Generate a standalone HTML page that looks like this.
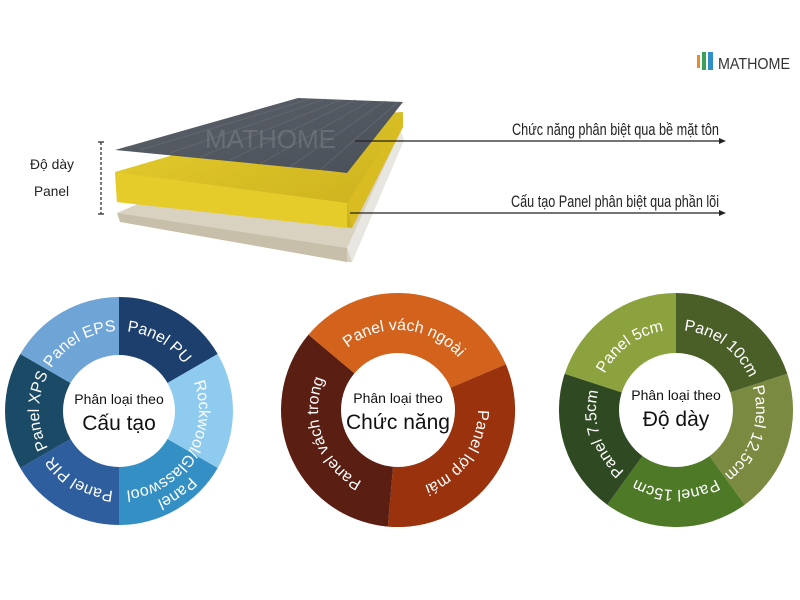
<!DOCTYPE html>
<html><head><meta charset="utf-8"><style>
html,body{margin:0;padding:0;background:#fff;}
svg{display:block;}
</style></head><body>
<svg width="800" height="600" viewBox="0 0 800 600" xmlns="http://www.w3.org/2000/svg">
<defs>
<linearGradient id="gy" x1="0" y1="0" x2="1" y2="1"><stop offset="0" stop-color="#e7cf2e"/><stop offset="1" stop-color="#c9ad1c"/></linearGradient>
<linearGradient id="gg" x1="0" y1="0" x2="1" y2="1"><stop offset="0" stop-color="#5b6069"/><stop offset="1" stop-color="#4a5059"/></linearGradient>
<path id="c1" d="M119,331 A80,80 0 1 1 119,491 A80,80 0 1 1 119,331 A80,80 0 1 1 119,491 A80,80 0 1 1 119,331"/>
<path id="c1b" d="M119,314 A97,97 0 1 1 119,508 A97,97 0 1 1 119,314 A97,97 0 1 1 119,508 A97,97 0 1 1 119,314"/>
<path id="c2" d="M398,330 A80,80 0 1 1 398,490 A80,80 0 1 1 398,330 A80,80 0 1 1 398,490 A80,80 0 1 1 398,330"/>
<path id="c3" d="M676,330 A80,80 0 1 1 676,490 A80,80 0 1 1 676,330 A80,80 0 1 1 676,490 A80,80 0 1 1 676,330"/>
</defs>
<rect width="800" height="600" fill="#fff"/>

<!-- logo -->
<rect x="697" y="55" width="3" height="13" fill="#e8892a"/>
<rect x="702" y="52" width="4" height="18" fill="#3aa05a"/>
<rect x="708" y="52" width="5" height="18" fill="#2f8fc8"/>
<text x="718" y="69" font-family="Liberation Sans, sans-serif" font-size="16" fill="#333" textLength="72" lengthAdjust="spacingAndGlyphs">MATHOME</text>

<!-- panel illustration -->
<polygon points="117,213 140,203 400,130 404,140 352,262 347,262" fill="#d9d2c0"/>
<polygon points="117,213 347,248 347,262 120,222" fill="#c8bfaa"/>
<polygon points="347,248 400,132 404,140 352,262" fill="#e8e6e0"/>
<polygon points="115,172 300,118 403,112 403,125 352,228 117,202" fill="url(#gy)"/>
<polygon points="115,172 347,203 347,228 117,202" fill="#e6cc2a"/>
<polygon points="347,203 403,115 403,127 352,228" fill="#d8bc22"/>
<polygon points="115,150 298,98 403,102 347,173 330,171" fill="url(#gg)"/>
<g stroke="#6a7079" stroke-width="1" opacity="0.6">
<line x1="140" y1="150" x2="310" y2="99"/><line x1="170" y1="153" x2="325" y2="99"/>
<line x1="200" y1="157" x2="340" y2="100"/><line x1="230" y1="160" x2="355" y2="100"/>
<line x1="260" y1="164" x2="370" y2="101"/><line x1="290" y1="167" x2="385" y2="101"/>
<line x1="320" y1="170" x2="398" y2="102"/>
</g>
<text x="205" y="148" font-family="Liberation Sans, sans-serif" font-size="26" fill="#8a8f96" opacity="0.4">MATHOME</text>

<!-- dimension -->
<line x1="101" y1="142" x2="101" y2="214" stroke="#333" stroke-width="1.3" stroke-dasharray="3,2"/>
<line x1="98" y1="142" x2="104" y2="142" stroke="#333" stroke-width="1.3"/>
<line x1="98" y1="214" x2="104" y2="214" stroke="#333" stroke-width="1.3"/>
<text x="30" y="169" font-family="Liberation Sans, sans-serif" font-size="14" fill="#222" textLength="44" lengthAdjust="spacingAndGlyphs">Độ dày</text>
<text x="34" y="196" font-family="Liberation Sans, sans-serif" font-size="14" fill="#222" textLength="35" lengthAdjust="spacingAndGlyphs">Panel</text>

<!-- arrows -->
<line x1="355" y1="141" x2="722" y2="141" stroke="#222" stroke-width="1.3"/>
<polygon points="726,141 719,138 719,144" fill="#222"/>
<line x1="350" y1="213" x2="722" y2="213" stroke="#222" stroke-width="1.3"/>
<polygon points="726,213 719,210 719,216" fill="#222"/>
<text x="512" y="135" font-family="Liberation Sans, sans-serif" font-size="17" fill="#222" textLength="207" lengthAdjust="spacingAndGlyphs">Chức năng phân biệt qua bề mặt tôn</text>
<text x="511" y="207" font-family="Liberation Sans, sans-serif" font-size="17" fill="#222" textLength="208" lengthAdjust="spacingAndGlyphs">Cấu tạo Panel phân biệt qua phần lõi</text>

<!-- donut 1 -->
<g transform="translate(119,411)">
<path d="M0,0 L0,-114 A114,114 0 0 1 98.7,-57 Z" fill="#1d3f6e"/>
<path d="M0,0 L98.7,-57 A114,114 0 0 1 98.7,57 Z" fill="#8fcbee"/>
<path d="M0,0 L98.7,57 A114,114 0 0 1 0,114 Z" fill="#3490c4"/>
<path d="M0,0 L0,114 A114,114 0 0 1 -98.7,57 Z" fill="#2e5e9e"/>
<path d="M0,0 L-98.7,57 A114,114 0 0 1 -98.7,-57 Z" fill="#1b4a66"/>
<path d="M0,0 L-98.7,-57 A114,114 0 0 1 0,-114 Z" fill="#6fa4d6"/>
<circle r="56" fill="#fff"/>
</g>
<g font-family="Liberation Sans, sans-serif" font-size="16" fill="#fff">
<text><textPath href="#c1" startOffset="54.17%" text-anchor="middle">Panel PU</textPath></text>
<text><textPath href="#c1" startOffset="66.9%" text-anchor="middle">Rockwool/Glasswool</textPath></text>
<text><textPath href="#c1b" startOffset="70.1%" text-anchor="middle">Panel</textPath></text>
<text><textPath href="#c1" startOffset="79.17%" text-anchor="middle">Panel PIR</textPath></text>
<text><textPath href="#c1" startOffset="87.5%" text-anchor="middle">Panel XPS</textPath></text>
<text><textPath href="#c1" startOffset="95.83%" text-anchor="middle">Panel EPS</textPath></text>
</g>
<text x="119" y="404" text-anchor="middle" font-family="Liberation Sans, sans-serif" font-size="14" fill="#111">Phân loại theo</text>
<text x="119" y="430" text-anchor="middle" font-family="Liberation Sans, sans-serif" font-size="21" fill="#111">Cấu tạo</text>

<!-- donut 2 -->
<g transform="translate(398,410)">
<path d="M0,0 L-89.6,-75.2 A117,117 0 0 1 107.8,-45.7 Z" fill="#d2621c"/>
<path d="M0,0 L107.8,-45.7 A117,117 0 0 1 -10.2,116.6 Z" fill="#99320d"/>
<path d="M0,0 L-10.2,116.6 A117,117 0 0 1 -89.6,-75.2 Z" fill="#5a1e12"/>
<circle r="57" fill="#fff"/>
</g>
<g font-family="Liberation Sans, sans-serif" font-size="16" fill="#fff">
<text><textPath href="#c2" startOffset="50.7%" text-anchor="middle">Panel vách ngoài</textPath></text>
<text><textPath href="#c2" startOffset="67.4%" text-anchor="middle">Panel lợp mái</textPath></text>
<text><textPath href="#c2" startOffset="84.7%" text-anchor="middle">Panel vách trong</textPath></text>
</g>
<text x="398" y="403" text-anchor="middle" font-family="Liberation Sans, sans-serif" font-size="14" fill="#111">Phân loại theo</text>
<text x="398" y="429" text-anchor="middle" font-family="Liberation Sans, sans-serif" font-size="21" fill="#111">Chức năng</text>

<!-- donut 3 -->
<g transform="translate(676,410)">
<path d="M0,0 L0,-117 A117,117 0 0 1 111.3,-36.2 Z" fill="#4a5e28"/>
<path d="M0,0 L111.3,-36.2 A117,117 0 0 1 68.8,94.7 Z" fill="#7a8a40"/>
<path d="M0,0 L68.8,94.7 A117,117 0 0 1 -68.8,94.7 Z" fill="#4e7a28"/>
<path d="M0,0 L-68.8,94.7 A117,117 0 0 1 -111.3,-36.2 Z" fill="#2f4a22"/>
<path d="M0,0 L-111.3,-36.2 A117,117 0 0 1 0,-117 Z" fill="#8ca23e"/>
<circle r="57" fill="#fff"/>
</g>
<g font-family="Liberation Sans, sans-serif" font-size="16" fill="#fff">
<text><textPath href="#c3" startOffset="55%" text-anchor="middle">Panel 10cm</textPath></text>
<text><textPath href="#c3" startOffset="65%" text-anchor="middle">Panel 12.5cm</textPath></text>
<text><textPath href="#c3" startOffset="75%" text-anchor="middle">Panel 15cm</textPath></text>
<text><textPath href="#c3" startOffset="85%" text-anchor="middle">Panel 7.5cm</textPath></text>
<text><textPath href="#c3" startOffset="95%" text-anchor="middle">Panel 5cm</textPath></text>
</g>
<text x="676" y="400" text-anchor="middle" font-family="Liberation Sans, sans-serif" font-size="14" fill="#111">Phân loại theo</text>
<text x="676" y="426" text-anchor="middle" font-family="Liberation Sans, sans-serif" font-size="21" fill="#111">Độ dày</text>
</svg>
</body></html>
